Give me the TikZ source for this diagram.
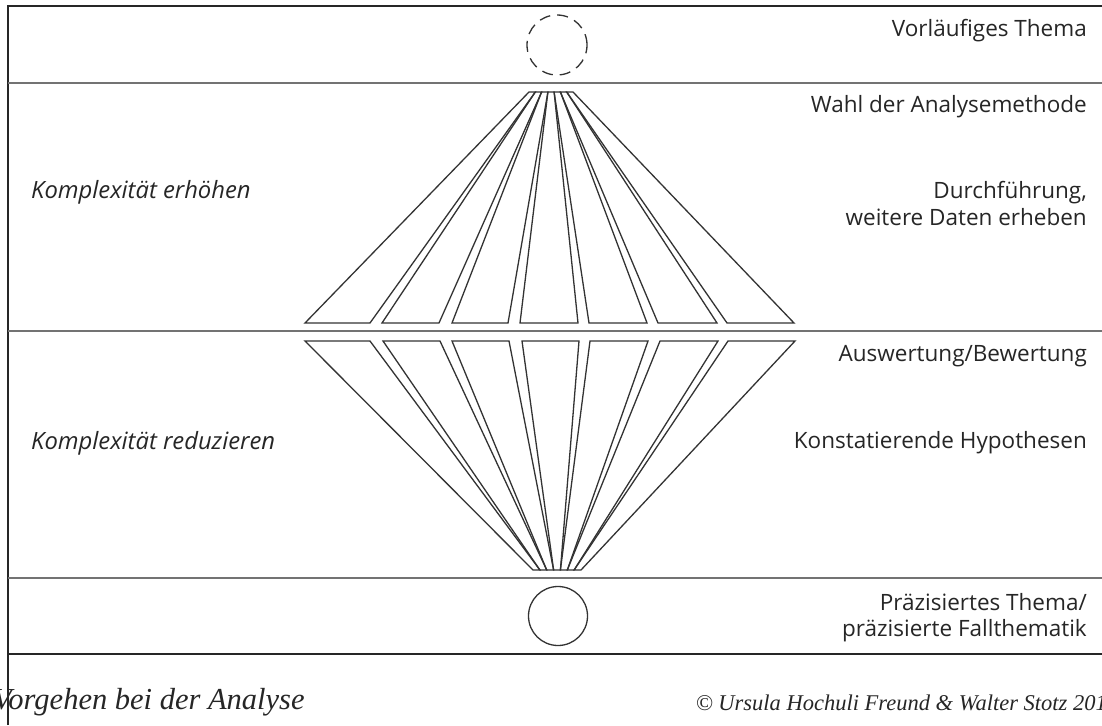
\documentclass[tikz,border=0pt]{standalone}
\usepackage{fontspec}
\setmainfont{Open Sans}
\newfontfamily\capfont{Liberation Serif}
\begin{document}
\begin{tikzpicture}[x=1pt,y=-1pt,
  frame/.style={line width=2pt,black!85},
  sepline/.style={line width=1.6pt,black!55},
  strip/.style={line width=1.3pt,black!80,line join=miter},
  lbl/.style={font=\fontsize{22.5}{24}\selectfont,inner sep=0pt,text=black!85,anchor=base east},
  side/.style={font=\fontsize{23.8}{26}\selectfont\itshape,inner sep=0pt,text=black!85,anchor=base west},
  foot/.style={inner sep=0pt,text=black!85}]
\useasboundingbox (0,0) rectangle (1102,725);
\fill[white] (0,0) rectangle (1102,725);
% frame and separators
\draw[frame] (8,725) -- (8,6) -- (1102,6);
\draw[sepline] (8,83) -- (1102,83);
\draw[sepline] (8,331) -- (1102,331);
\draw[sepline] (8,578) -- (1102,578);
\draw[line width=2.5pt,black!85] (8,654) -- (1102,654);
% circles
\node[circle,draw,dashed,dash pattern=on 11pt off 7pt,line width=1.3pt,black!80,minimum size=60pt,inner sep=0pt] (vt) at (557,45) {};
\node[circle,draw,line width=1.3pt,black!80,minimum size=59pt,inner sep=0pt] (pt) at (558,616) {};
% upper fan
\foreach \a/\b/\c/\d in {529/535.3/305/370, 535.3/541.6/382/439, 541.6/547.9/452/508, 547.9/554.1/520/578, 554.1/560.4/589/647, 560.4/566.7/658/717, 566.7/573/727/794}
  \draw[strip] (\a,92) -- (\b,92) -- (\d,323) -- (\c,323) -- cycle;
% lower fan
\foreach \a/\b/\c/\d in {533/539.9/305/370, 539.9/546.7/383/440, 546.7/553.6/452/509, 553.6/560.4/522/579, 560.4/567.3/590/648, 567.3/574.1/660/718, 574.1/581/728/795}
  \draw[strip] (\c,341) -- (\d,341) -- (\b,570) -- (\a,570) -- cycle;
% labels right
\node[lbl] (l1) at (1087,37) {Vorläufiges Thema};
\node[lbl] (l2) at (1087,112) {Wahl der Analysemethode};
\node[lbl] (l3a) at (1087,198) {Durchführung,};
\node[lbl] (l3b) at (1087,225) {weitere Daten erheben};
\node[lbl] (l4) at (1087,361) {Auswertung/Bewertung};
\node[lbl] (l5) at (1087,448) {Konstatierende Hypothesen};
\node[lbl] (l6a) at (1087,610) {Präzisiertes Thema/};
\node[lbl] (l6b) at (1087,636) {präzisierte Fallthematik};
% labels left
\node[side] (s1) at (31,198) {Komplexität erhöhen};
\node[side] (s2) at (31,449) {Komplexität reduzieren};
% footer
\node[foot,anchor=base west,font=\capfont\itshape\fontsize{30.5}{32}\selectfont] (f1) at (-7,709) {Vorgehen bei der Analyse};
\node[foot,anchor=base east,font=\capfont\itshape\fontsize{22.5}{24}\selectfont] (f2) at (1107,710) {© Ursula Hochuli Freund \& Walter Stotz 201};
\end{tikzpicture}
\end{document}
